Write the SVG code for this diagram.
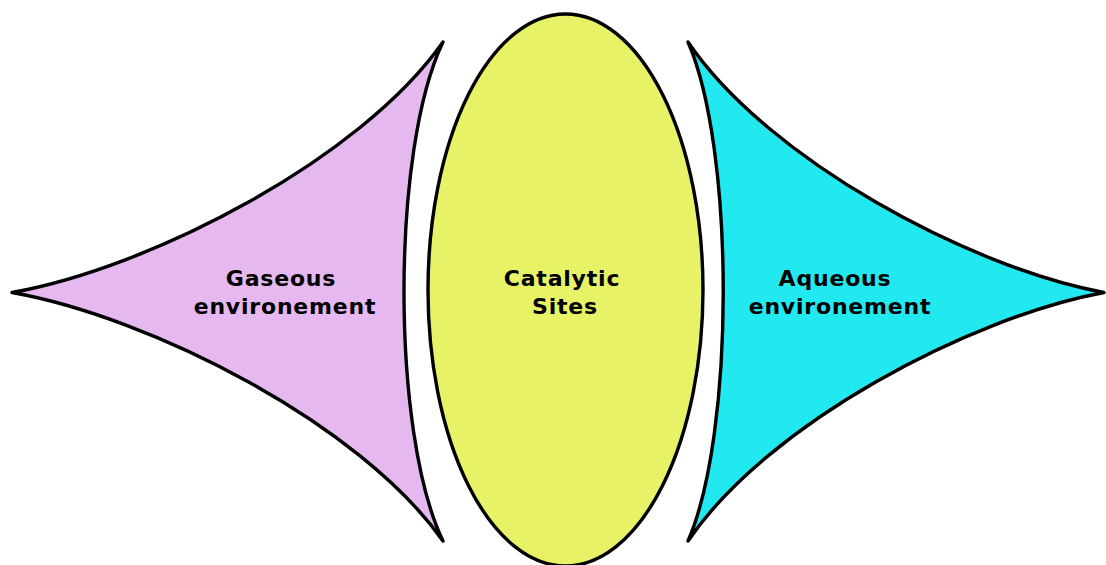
<svg xmlns="http://www.w3.org/2000/svg" width="1106" height="565" viewBox="0 0 1106 565">
<style>
.shape{stroke:#000;stroke-width:3.4;stroke-linejoin:round;stroke-linecap:round}
.lbl{font-family:"DejaVu Sans",Verdana,sans-serif;font-weight:bold;font-size:22px;letter-spacing:0.8px;fill:#000;text-anchor:middle}
</style>
<rect width="1106" height="565" fill="#fff"/>
<g id="gaseous">
<path class="shape" fill="#e6b8f0" d="M12,292.5 C150,268 360,160 443,42 C391,150 391,433 443,541 C360,423 150,317 12,292.5 Z"/>
<text class="lbl" x="281" y="286">Gaseous</text>
<text class="lbl" x="285" y="314">environement</text>
</g>
<g id="catalytic">
<ellipse class="shape" fill="#e8f266" stroke-width="2.8" cx="565.5" cy="290" rx="137.5" ry="276"/>
<text class="lbl" x="562" y="286">Catalytic</text>
<text class="lbl" x="565" y="314">Sites</text>
</g>
<g id="aqueous">
<path class="shape" fill="#22e8f0" d="M1104,292.5 C971,268 768,160 688,42 C735,150 735,433 688,541 C768,423 971,317 1104,292.5 Z"/>
<text class="lbl" x="835" y="286">Aqueous</text>
<text class="lbl" x="840" y="314">environement</text>
</g>
</svg>
